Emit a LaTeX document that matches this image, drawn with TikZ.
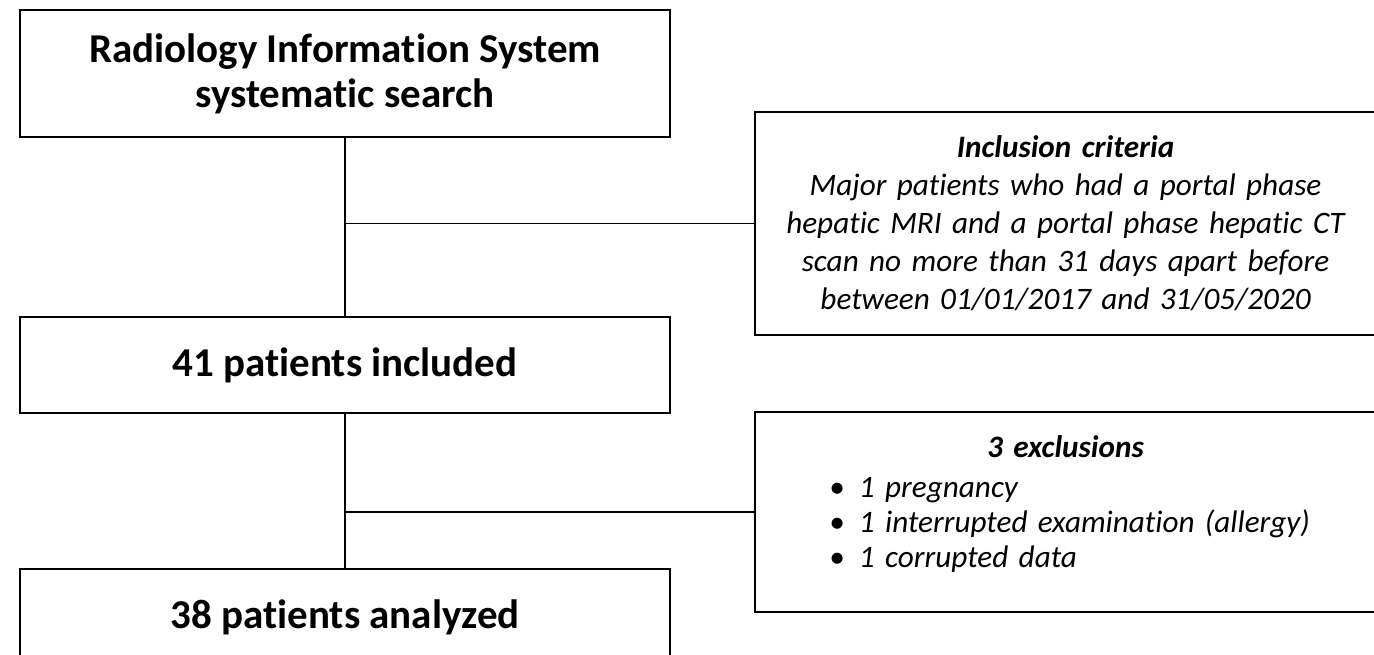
\documentclass[tikz,border=0pt]{standalone}
\usepackage{fontspec}
\setmainfont{Carlito}[Ligatures={NoCommon,NoContextual}]
\newcommand\exitem[1]{\par\hspace*{37pt}\makebox[15pt][l]{•}#1}
\begin{document}
\begin{tikzpicture}[x=.5pt,y=-.5pt,line width=.9pt,
  mainbox/.style={draw,minimum width=325pt,align=center,font=\fontsize{20.5}{22.5}\selectfont\bfseries},
  sidebox/.style={draw,minimum width=310.5pt,inner xsep=0pt,text width=310.5pt,font=\fontsize{15.6}{19}\selectfont\itshape}]
\useasboundingbox (0,0) rectangle (1374,654);
% main column
\node[mainbox,minimum height=63.5pt] (search) at (345,73.5) {Radiology Information System\\systematic search};
\node[mainbox,minimum height=48pt] (incl) at (345,365) {41 patients included};
\node[mainbox,minimum height=48pt] (ana) at (345,617) {38 patients analyzed};
% side boxes
\node[sidebox,minimum height=111.5pt,align=center] (crit) at (1065.5,223.5) {\textbf{Inclusion criteria}\\Major patients who had a portal phase\\hepatic MRI and a portal phase hepatic CT\\scan no more than 31 days apart before\\between 01/01/2017 and 31/05/2020};
\node[sidebox,minimum height=100pt,align=left,font=\fontsize{15.6}{17.5}\selectfont\itshape] (excl) at (1065.5,512) {{\centering\textbf{3 exclusions}\par}\vspace{2.5pt}%
\exitem{1 pregnancy}\exitem{1 interrupted examination (allergy)}\exitem{1 corrupted data}\par\vspace{-7.5pt}\mbox{}};
% connectors
\draw (search.south) -- (incl.north);\draw (crit.west) -- (crit.west -| search.south);
\draw (incl.south) -- (ana.north);\draw (excl.west) -- (excl.west -| incl.south);
\end{tikzpicture}
\end{document}
